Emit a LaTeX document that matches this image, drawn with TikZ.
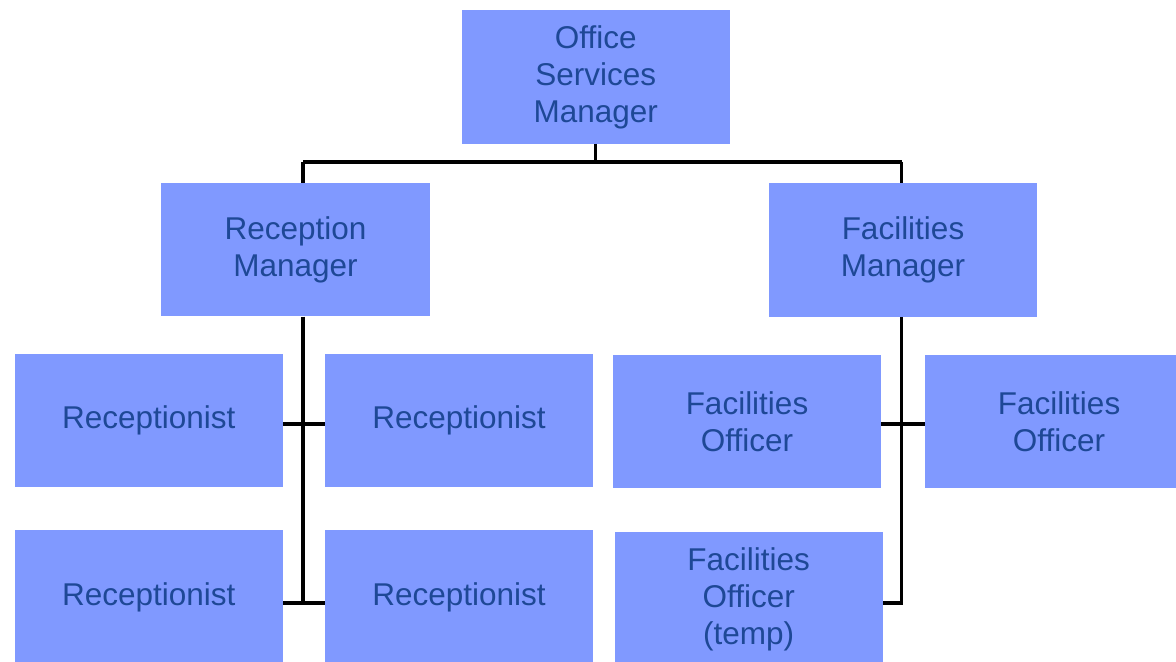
\documentclass[tikz,border=0pt]{standalone}
\usepackage{fontspec}
\setmainfont{Liberation Sans}
\usepackage{tikz}
\definecolor{boxfill}{RGB}{128,153,255}
\definecolor{boxtext}{RGB}{30,72,150}
\tikzset{
  bx/.style={rectangle,fill=boxfill,text=boxtext,minimum width=6.7cm,minimum height=3.33cm,
    inner sep=0pt,align=center,font=\fontsize{22.4}{26.3}\selectfont},
  ln/.style={line width=2.5pt,black},
}
\begin{document}
\begin{tikzpicture}[x=0.025cm,y=0.025cm]
\useasboundingbox (0,0) rectangle (1176,-662);
\node[bx] (osm) at (595.7,-77){Office\\Services\\Manager};
\node[bx] (rm) at (295.5,-249.7){Reception\\Manager}; \node[bx] (fm) at (903,-250){Facilities\\Manager};
\node[bx] (r1) at (148.7,-420.5){Receptionist}; \node[bx] (r2) at (459,-420.5){Receptionist};
\node[bx] (r3) at (148.7,-597){Receptionist}; \node[bx] (r4) at (459,-597){Receptionist};
\node[bx] (fo1) at (747,-421.5){Facilities\\Officer}; \node[bx] (fo2) at (1059,-421.5){Facilities\\Officer};
\node[bx] (fot) at (748.7,-599){Facilities\\Officer\\(temp)};
\coordinate (rs) at (303,-162); \coordinate (fs) at (901.5,-162);
\coordinate (ra) at (303,-424); \coordinate (rb) at (303,-603);
\coordinate (fa) at (901.5,-424); \coordinate (fb) at (901.5,-603);
\draw[ln] (osm.south) -- (osm.south |- rs); \draw[ln] (rs) -- (fs);
\draw[ln] (rs) -- (rs |- rm.north); \draw[ln] (fs) -- (fs |- fm.north);
\draw[ln] (rs |- rm.south) -- (rb); \draw[ln] (r1.east |- ra) -- (r2.west |- ra);
\draw[ln] (r3.east |- rb) -- (r4.west |- rb);
\draw[ln] (fs |- fm.south) -- (fb) -- (fot.east |- fb); \draw[ln] (fo1.east |- fa) -- (fo2.west |- fa);
\end{tikzpicture}
\end{document}
